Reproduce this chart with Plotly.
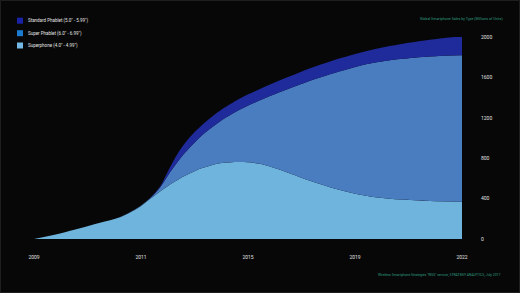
import plotly.graph_objects as go

# x positions (axis units: 0 = 2009 label, 4 = 2022 label; labels are evenly spaced)
x_pos = [0, 0.243, 0.430, 0.617, 0.804, 0.991, 1.084, 1.178, 1.271, 1.364, 1.458, 1.551, 1.645,
         1.738, 1.925, 2.112, 2.299, 2.486, 2.673, 2.860, 3.047, 3.234, 3.421, 3.701, 4.0]
x_tick_vals = [0, 1, 2, 3, 4]
x_tick_labels = ["2009", "2011", "2015", "2019", "2022"]

superphone = [0, 55, 106, 160, 215, 320, 395, 470, 540, 600, 650, 695, 725,
              749, 762, 745, 685, 612, 545, 485, 438, 408, 390, 376, 368]
super_phablet = [0, 0, 0, 0, 2, 5, 8, 40, 120, 195, 258, 313, 366,
                 415, 519, 628, 770, 918, 1053, 1175, 1277, 1346, 1392, 1432, 1452]
standard_phablet = [0, 0, 0, 0, 0, 0, 2, 10, 50, 85, 102, 102, 104,
                    106, 109, 112, 117, 122, 127, 130, 130, 136, 146, 164, 188]

y_tick_vals = [0, 400, 800, 1200, 1600, 2000]
y_tick_labels = ["0", "400", "800", "1200", "1600", "2000"]

legend_labels = ['Standard Phablet (5.0" - 5.99")', 'Super Phablet (6.0" - 6.99")', 'Superphone (4.0" - 4.99")']
legend_colors = ["#1a22a8", "#1b7bd0", "#74b8e6"]

title_text = "Global Smartphone Sales by Type (Millions of Units)"
source_text = 'Wireless Smartphone Strategies "WSS" service, STRATEGY ANALYTICS, July 2017'

W, H = 520, 293
L, R, T, B = 34, 58, 37, 54
pw, ph = W - L - R, H - T - B

def px_x(px):
    return (px - L) / pw

def px_y(py):
    return (H - B - py) / ph

fig = go.Figure()
for name, vals, col in [("Superphone", superphone, "#6eb4dc"),
                        ("Super Phablet", super_phablet, "#4a7cc0"),
                        ("Standard Phablet", standard_phablet, "#1f2b9a")]:
    fig.add_trace(go.Scatter(
        x=x_pos, y=vals, name=name, stackgroup="one",
        mode="lines", line=dict(width=0, shape="spline", smoothing=0.9, color=col),
        fillcolor=col, showlegend=False, hoverinfo="skip"))

shapes = []
annotations = []
row_y = [20.7, 33.2, 45.5]
for lab, col, yy in zip(legend_labels, legend_colors, row_y):
    shapes.append(dict(type="rect", xref="paper", yref="paper",
                       x0=px_x(17), x1=px_x(23), y0=px_y(yy + 3), y1=px_y(yy - 3),
                       fillcolor=col, line=dict(width=0)))
    annotations.append(dict(text=lab, xref="paper", yref="paper", x=px_x(26), y=px_y(yy),
                            xanchor="left", yanchor="middle", showarrow=False,
                            font=dict(size=4.5, color="#e6e6e6", family="Roboto")))

annotations.append(dict(text=title_text, xref="paper", yref="paper", x=px_x(461), y=px_y(19),
                        xanchor="center", yanchor="middle", showarrow=False,
                        font=dict(size=3.6, color="#2f9e80", family="Roboto")))
annotations.append(dict(text=source_text, xref="paper", yref="paper", x=px_x(439), y=px_y(275),
                        xanchor="center", yanchor="middle", showarrow=False,
                        font=dict(size=3.4, color="#2f9e80", family="Roboto")))

shapes.append(dict(type="rect", xref="paper", yref="paper",
                   x0=px_x(0.5), x1=px_x(519.5), y0=px_y(292.5), y1=px_y(0.5),
                   line=dict(color="#1e1e1e", width=1), fillcolor="rgba(0,0,0,0)", layer="below"))

fig.update_layout(
    width=W, height=H,
    margin=dict(l=L, r=R, t=T, b=B),
    paper_bgcolor="#070707", plot_bgcolor="#070707",
    showlegend=False,
    shapes=shapes, annotations=annotations,
    xaxis=dict(range=[0, 4], tickvals=x_tick_vals, ticktext=x_tick_labels,
               showgrid=False, zeroline=False, showline=False, ticks="",
               ticklabelstandoff=14,
               tickfont=dict(size=5, color="#e0e0e0", family="Roboto")),
    yaxis=dict(range=[0, 2000], side="right", tickvals=y_tick_vals, ticktext=y_tick_labels,
               showgrid=False, zeroline=False, showline=False, ticks="",
               ticklabelstandoff=18,
               tickfont=dict(size=5, color="#e0e0e0", family="Roboto")),
)

fig.write_html("out.html")
